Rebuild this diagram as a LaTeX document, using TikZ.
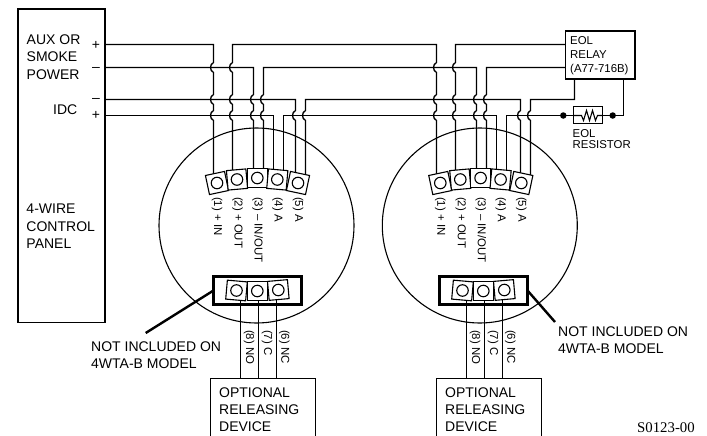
\documentclass[tikz,border=0pt]{standalone}
\usepackage{fontspec}
\usetikzlibrary{backgrounds}
\setmainfont{Liberation Sans}
\newfontfamily\serialfont{Liberation Serif}
\newcommand\hp[2]{-- (#1,#2-5) .. controls (#1-4,#2-3) and (#1-4,#2+3) .. (#1,#2+5)}
\newcommand\hu[2]{-- (#1,#2+5) .. controls (#1-4,#2+3) and (#1-4,#2-3) .. (#1,#2-5)}
\newcommand\termbox[4]{\node[termsq,rotate=#4] (#1) at (#2,#3) {}; \node[termcirc] (#1c) at (#2,#3) {};}
\newcommand\lowterm[4]{\node[lowsq,rotate=#4] (#1) at (#2,#3) {}; \node[termcirc] (#1c) at (#2,#3) {};}
\newcommand\detector[2]{%
  \begin{scope}[xshift=#2pt]
    \node[detcirc] (#1det) at (256.5,225.5) {};
    \termbox{#1a}{217}{183}{12}
    \termbox{#1b}{237}{179.5}{5}
    \termbox{#1c}{257.3}{178}{0}
    \termbox{#1d}{277.3}{179.5}{-5}
    \termbox{#1e}{298}{183}{-12}
    \node[vlab] (#1la) at (217,197) {(1) + IN};
    \node[vlab] (#1lb) at (237.5,197) {(2) + OUT};
    \node[vlab] (#1lc) at (257.5,197) {(3) -- IN/OUT};
    \node[vlab] (#1ld) at (277.5,197) {(4) A};
    \node[vlab] (#1le) at (298,197) {(5) A};
  \end{scope}}
\newcommand\lowgroup[2]{%
  \begin{scope}[xshift=#2pt]
    \node[thickbox,minimum width=88pt,minimum height=28pt] (#1low) at (257.5,290.5) {};
    \lowterm{#1x}{236.5}{290.5}{-5}
    \lowterm{#1y}{257.3}{291}{0}
    \lowterm{#1z}{278.3}{290}{5}
    \node[vlab] (#1lx) at (249,330) {(8) NO};
    \node[vlab] (#1ly) at (267,330) {(7) C};
    \node[vlab] (#1lz) at (284.3,330) {(6) NC};
    \coordinate (#1tl) at (210.7,378.7);
    \coordinate (#1tr) at (315.3,378.7);
    \draw[wire] (#1tl |- 0,436) -- (#1tl) -- (#1tr) -- (#1tr |- 0,436);
    \node[big] (#1dev) at (219,387.2) {OPTIONAL\\RELEASING\\DEVICE};
    \begin{scope}[on background layer]
      \draw[wire] (240.5,0 |- #1x.center) -- (240.5,0 |- #1tl);
      \draw[wire] (258.5,0 |- #1y.center) -- (258.5,0 |- #1tl);
      \draw[wire] (276.5,0 |- #1z.center) -- (276.5,0 |- #1tl);
    \end{scope}
  \end{scope}}
\tikzset{
  wire/.style={line width=1.35pt},
  boxed/.style={draw,line width=1.35pt,inner sep=0pt,outer sep=0pt},
  detcirc/.style={circle,draw,line width=1.1pt,minimum size=195pt,inner sep=0pt,outer sep=0pt},
  termsq/.style={rectangle,draw,fill=white,line width=1.1pt,minimum size=19.5pt,inner sep=0pt,outer sep=0pt},
  lowsq/.style={rectangle,draw,fill=white,line width=1.1pt,minimum width=20pt,minimum height=19pt,inner sep=0pt,outer sep=0pt},
  termcirc/.style={circle,draw,line width=1.1pt,minimum size=11.5pt,inner sep=0pt,outer sep=0pt},
  vlab/.style={rotate=-90,anchor=west,inner sep=0pt,font=\fontsize{11.4}{12}\selectfont},
  big/.style={anchor=north west,align=left,inner sep=0pt,font=\fontsize{14}{17.3}\selectfont},
  small/.style={anchor=north west,align=left,inner sep=0pt,font=\fontsize{11.4}{11.2}\selectfont},
  sign/.style={inner sep=0pt,font=\fontsize{14}{14}\selectfont},
  thickbox/.style={rectangle,draw,line width=2.6pt,inner sep=0pt,outer sep=0pt},
  lead/.style={line width=2.4pt},
  dot/.style={circle,fill=black,minimum size=6.5pt,inner sep=0pt,outer sep=0pt},
}
\begin{document}
\begin{tikzpicture}[x=1pt,y=-1pt]
\useasboundingbox (0,0) rectangle (707,436);
\detector{L}{0}
\detector{R}{223.3}
\lowgroup{L}{0}
\lowgroup{R}{226}
% panel and relay
\node[boxed,minimum width=87pt,minimum height=313.5pt] (panel) at (61.5,165.8) {};
\node[boxed,minimum width=69.3pt,minimum height=48pt] (relay) at (600.3,55) {};
\coordinate (p1) at (panel.east |- 0,44.5);
\coordinate (p2) at (panel.east |- 0,67.5);
\coordinate (p3) at (panel.east |- 0,99.5);
\coordinate (p4) at (panel.east |- 0,115.5);
\coordinate (r1) at (relay.west |- 0,44.5);
\coordinate (r2) at (relay.west |- 0,67.5);
\coordinate (r3) at (574.5,0 |- relay.south);
\coordinate (r4) at (623.5,0 |- relay.south);
% resistor
\node[boxed,draw,minimum width=29pt,minimum height=17pt] (res) at (588.2,114.7) {};
\node[dot] (d1) at (563.3,115.5) {};
\node[dot] (d2) at (612.7,115.5) {};
\begin{scope}[on background layer]
% AUX + to (1), and daisy chain
\draw[wire] (p1) -- (213.5,44.5) \hp{213.5}{67.5} \hp{213.5}{99.5} \hp{213.5}{115.5} -- (213.5,0 |- La.center);
\draw[wire] (232.5,0 |- Lb.center) \hu{232.5}{115.5} \hu{232.5}{99.5} \hu{232.5}{67.5} -- (232.5,44.5) -- (436.5,44.5) \hp{436.5}{67.5} \hp{436.5}{99.5} \hp{436.5}{115.5} -- (436.5,0 |- Ra.center);
\draw[wire] (r1) -- (455.5,44.5) \hp{455.5}{67.5} \hp{455.5}{99.5} \hp{455.5}{115.5} -- (455.5,0 |- Rb.center);
% AUX -
\draw[wire] (p2) -- (253.5,67.5) \hp{253.5}{99.5} \hp{253.5}{115.5} -- (253.5,0 |- Lc.center);
\draw[wire] (263.5,0 |- Lc.center) \hu{263.5}{115.5} \hu{263.5}{99.5} -- (263.5,67.5) -- (476.5,67.5) \hp{476.5}{99.5} \hp{476.5}{115.5} -- (476.5,0 |- Rc.center);
\draw[wire] (r2) -- (486.5,67.5) \hp{486.5}{99.5} \hp{486.5}{115.5} -- (486.5,0 |- Rc.center);
% IDC -
\draw[wire] (p3) -- (295.5,99.5) \hp{295.5}{115.5} -- (295.5,0 |- Le.center);
\draw[wire] (305.5,0 |- Le.center) \hu{305.5}{115.5} -- (305.5,99.5) -- (520.5,99.5) \hp{520.5}{115.5} -- (520.5,0 |- Re.center);
\draw[wire] (r3) -- (574.5,99.5) -- (530.5,99.5) \hp{530.5}{115.5} -- (530.5,0 |- Re.center);
% IDC +
\draw[wire] (p4) -- (273.5,115.5) -- (273.5,0 |- Ld.center);
\draw[wire] (283.5,0 |- Ld.center) -- (283.5,115.5) -- (496.5,115.5) -- (496.5,0 |- Rd.center);
\draw[wire] (506.5,0 |- Rd.center) -- (506.5,115.5) -- (d1.center);
\draw[wire] (d1.center) -- (res.west |- d1);
\draw[wire] (r4) -- (623.5,115.5) -- (d2.center) -- (res.east |- d2);
\end{scope}
\draw[line width=1.1pt] (res.west |- d1) -- (581.5,115.5) -- (583.5,120.5) -- (586.5,110.5) -- (589.5,120.5) -- (592.5,110.5) -- (595.5,120.5) -- (597.5,115.5) -- (res.east |- d2);
% leaders
\coordinate (la) at (145.7,333);
\coordinate (ra) at (555,322);
\draw[lead] (Llow.west) -- (la);
\draw[lead] (Rlow.east) -- (ra);
% texts
\node[big] (t1) at (26.5,34.5) {AUX OR\\SMOKE\\POWER};
\node[big] (t2) at (53,104.5) {IDC};
\node[big] (t3) at (26.3,204) {4-WIRE\\CONTROL\\PANEL};
\node[sign] (s1) at (96,45) {+};
\node[sign] (s2) at (96,69) {--};
\node[sign] (s3) at (96,100) {--};
\node[sign] (s4) at (96,115) {+};
\node[small,font=\fontsize{11.4}{14.2}\selectfont] (t4) at (570,36.3) {EOL\\RELAY\\(A77-716B)};
\node[small] (t5) at (572.5,129) {EOL\\RESISTOR};
\node[big,font=\fontsize{14}{17}\selectfont] (t6) at (91,341.5) {NOT INCLUDED ON\\4WTA-B MODEL};
\node[big,font=\fontsize{14}{17}\selectfont] (t7) at (558,327) {NOT INCLUDED ON\\4WTA-B MODEL};
\node[anchor=base west,inner sep=0pt,font=\serialfont\fontsize{14.8}{15}\selectfont] (t8) at (637,432.5) {S0123-00};
\end{tikzpicture}
\end{document}
